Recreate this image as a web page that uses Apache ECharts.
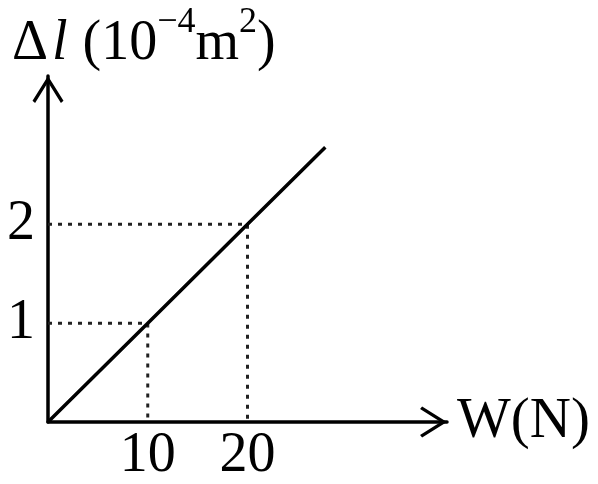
<!DOCTYPE html>
<html>
<head>
<meta charset="utf-8">
<script src="https://cdn.jsdelivr.net/npm/echarts@6/dist/echarts.min.js"></script>
<style>html,body{margin:0;padding:0;background:#fff;}#c{width:598px;height:484px;}</style>
</head>
<body>
<div id="c"></div>
<script>
// Data
const lineX = [0, 10, 20, 27.8];
const lineY = [0, 1, 2, 2.78];
const guide1X = [0, 10, 10];
const guide1Y = [1, 1, 0];
const guide2X = [0, 20, 20];
const guide2Y = [2, 2, 0];
const xTicks = [10, 20];
const yTicks = [1, 2];
const xName = 'W(N)';

const pairs = (xs, ys) => xs.map((x, i) => [x, ys[i]]);
const arrowPath = 'path://M15,0 L30,24 L27.5,26 L15,6 L2.5,26 L0,24 Z';
const serif = '"Liberation Serif", "DejaVu Serif", serif';
const big = {fontSize: 56, fontFamily: serif, fontWeight: 'normal', color: '#000', lineHeight: 67, verticalAlign: 'bottom'};

const chart = echarts.init(document.getElementById('c'));
chart.setOption({
  animation: false,
  backgroundColor: '#fff',
  title: {
    left: 12, top: 5, padding: 0,
    text: '{d|Δ}{l|l}{p| (10}{s|−4}{p|m}{s|2}{p|)}',
    textStyle: {
      fontFamily: serif, fontWeight: 'normal', fontSize: 56, color: '#000',
      rich: {
        d: Object.assign({}, big),
        l: Object.assign({}, big, {fontStyle: 'italic', padding: [0, 1, 0, 4]}),
        p: Object.assign({}, big),
        s: {fontSize: 36, fontFamily: serif, fontWeight: 'normal', color: '#000', lineHeight: 14, verticalAlign: 'top'}
      }
    }
  },
  grid: {left: 48, right: 151, top: 76, bottom: 62},
  xAxis: {
    type: 'value', min: 0, max: 40,
    name: xName, nameLocation: 'end', nameGap: 10,
    nameTextStyle: {fontFamily: serif, fontSize: 57, color: '#000', verticalAlign: 'middle'},
    axisLine: {show: true, lineStyle: {color: '#000', width: 3.5},
      symbol: ['none', arrowPath], symbolSize: [31, 27], symbolOffset: [0, -13.5]},
    axisTick: {show: false},
    splitLine: {show: false},
    axisLabel: {customValues: xTicks, fontFamily: serif, fontSize: 56, color: '#000', margin: 6}
  },
  yAxis: {
    type: 'value', min: 0, max: 3.5,
    axisLine: {show: true, lineStyle: {color: '#000', width: 3.5},
      symbol: ['none', arrowPath], symbolSize: [31, 27], symbolOffset: [0, -13.5]},
    axisTick: {show: false},
    splitLine: {show: false},
    axisLabel: {customValues: yTicks, fontFamily: serif, fontSize: 56, color: '#000', margin: 13}
  },
  series: [
    {type: 'line', data: pairs(guide1X, guide1Y), showSymbol: false, silent: true,
      lineStyle: {color: '#222', width: 3, type: [4, 6]}},
    {type: 'line', data: pairs(guide2X, guide2Y), showSymbol: false, silent: true,
      lineStyle: {color: '#222', width: 3, type: [4, 6]}},
    {type: 'line', data: pairs(lineX, lineY), showSymbol: false, silent: true,
      lineStyle: {color: '#000', width: 3.5}}
  ]
});
</script>
</body>
</html>
